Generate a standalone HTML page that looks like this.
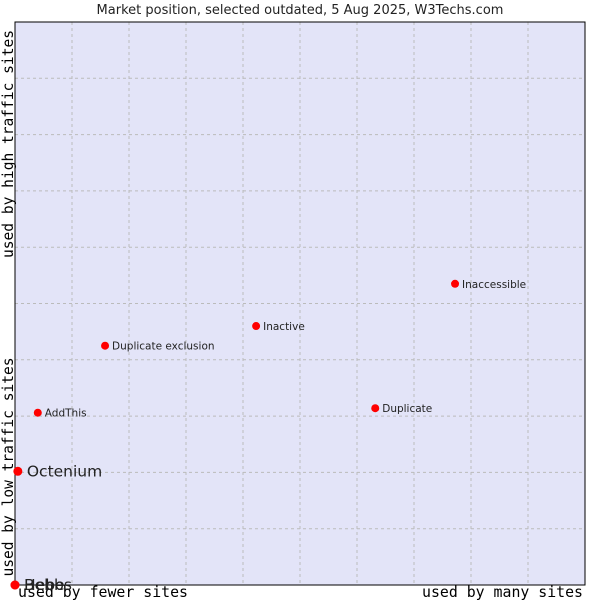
<!DOCTYPE html>
<html><head><meta charset="utf-8"><style>
body{margin:0;background:#fff;width:600px;height:600px;overflow:hidden}
svg text{font-family:"DejaVu Sans","Liberation Sans",sans-serif}
</style></head><body>
<svg id="chart" width="600" height="600" xmlns="http://www.w3.org/2000/svg">
<text x="300" y="14" text-anchor="middle" font-size="13" fill="#222">Market position, selected outdated, 5 Aug 2025, W3Techs.com</text>
<rect x="15" y="22" width="570" height="563" fill="#e3e4f8"/>
<g id="grid"></g>
<path d="M15 22 H585 V585 H15 Z" fill="none" stroke="#000" stroke-width="1"/>
<text transform="translate(13,144) rotate(-90)" text-anchor="middle" style="font-family:'DejaVu Sans Mono','Liberation Mono',monospace" font-size="14.8" textLength="228" lengthAdjust="spacingAndGlyphs" fill="#000">used by high traffic sites</text>
<text transform="translate(13,467) rotate(-90)" text-anchor="middle" style="font-family:'DejaVu Sans Mono','Liberation Mono',monospace" font-size="14.8" textLength="219" lengthAdjust="spacingAndGlyphs" fill="#000">used by low traffic sites</text>
<text x="18" y="597" style="font-family:'DejaVu Sans Mono','Liberation Mono',monospace" font-size="14.8" textLength="170" lengthAdjust="spacingAndGlyphs" fill="#000">used by fewer sites</text>
<text x="422" y="597" style="font-family:'DejaVu Sans Mono','Liberation Mono',monospace" font-size="14.8" textLength="161" lengthAdjust="spacingAndGlyphs" fill="#000">used by many sites</text>
<g id="points"></g>
</svg>
<script>
const names=["Bebbs","Hebe","Octenium","AddThis","Duplicate exclusion","Inactive","Duplicate","Inaccessible"];
const xValues=[0,0,0.5,4.0,15.8,42.3,63.2,77.2];
const yValues=[0,0,20.2,30.6,42.5,46.0,31.4,53.5];
const bigLabel=[true,true,true,false,false,false,false,false];
const NS="http://www.w3.org/2000/svg";
const L=15,T=22,W=570,H=563;
function xs(v){return L+v/100*W;}
function ys(v){return T+H-v/100*H;}
const grid=document.getElementById('grid');
for(let i=1;i<10;i++){
 const a=document.createElementNS(NS,'line');
 
 
 a.setAttribute('x1',xs(i*10));a.setAttribute('x2',xs(i*10));a.setAttribute('y1',T);a.setAttribute('y2',T+H);
 a.setAttribute('stroke','#bbb');a.setAttribute('stroke-dasharray','3,3');grid.appendChild(a);
 const b=document.createElementNS(NS,'line');
 
 
 b.setAttribute('y1',ys(i*10));b.setAttribute('y2',ys(i*10));b.setAttribute('x1',L);b.setAttribute('x2',L+W);
 b.setAttribute('stroke','#bbb');b.setAttribute('stroke-dasharray','3,3');grid.appendChild(b);
}
const pts=document.getElementById('points');
names.forEach((n,i)=>{
 const x=xs(xValues[i]),y=ys(yValues[i]);
 const c=document.createElementNS(NS,'circle');
 
 
 c.setAttribute('cx',x);c.setAttribute('cy',y);c.setAttribute('r',bigLabel[i]?4.5:4);c.setAttribute('fill','#f00');
 pts.appendChild(c);
 const t=document.createElementNS(NS,'text');
 
 
 t.setAttribute('x',x+(bigLabel[i]?9:7));t.setAttribute('y',y+(bigLabel[i]?5:4));
 t.setAttribute('font-size',bigLabel[i]?15.5:10.5);t.setAttribute('fill','#222');
 t.textContent=n;pts.appendChild(t);
});
</script>
</body></html>
